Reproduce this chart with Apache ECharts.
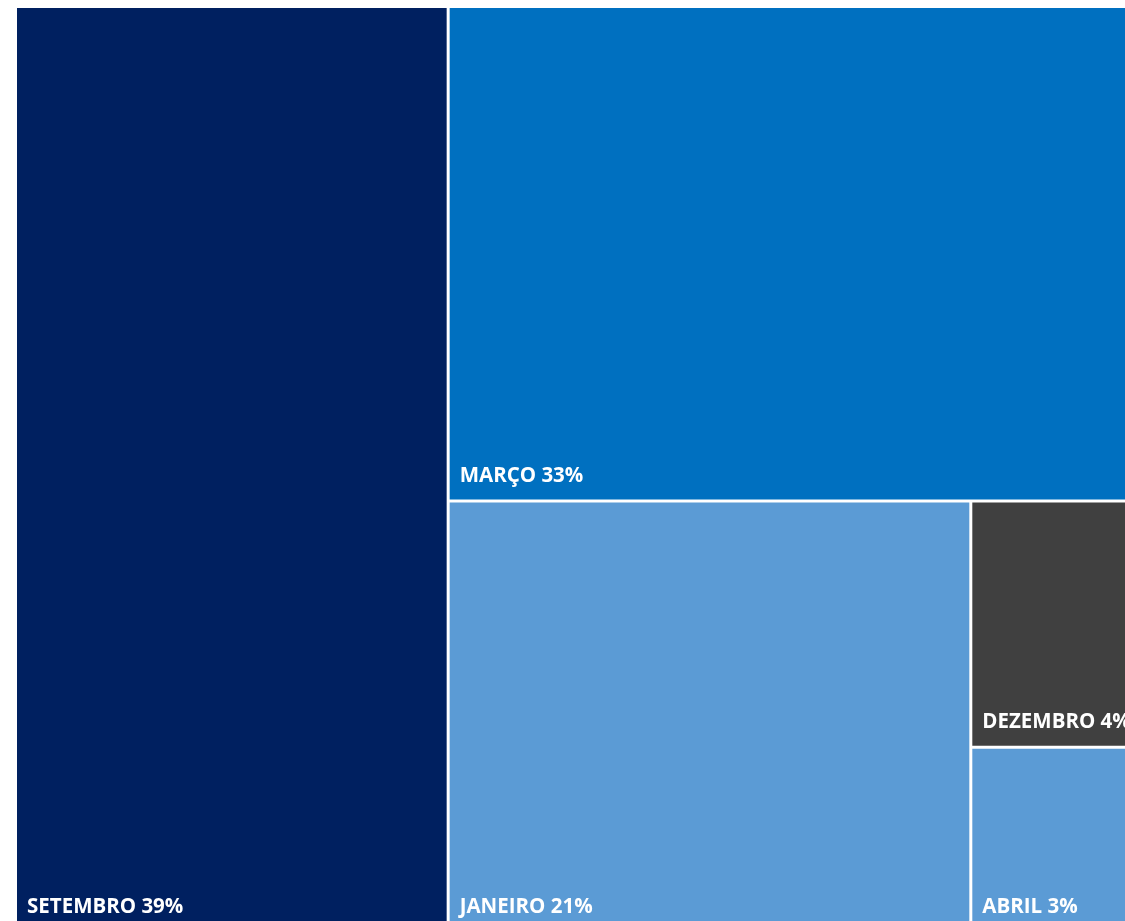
<!DOCTYPE html>
<html>
<head>
<meta charset="utf-8">
<script src="https://cdn.jsdelivr.net/npm/echarts@6/dist/echarts.min.js"></script>
<style>
  body { margin: 0; background: #fff; }
  #chart { width: 1125px; height: 921px; }
</style>
</head>
<body>
<div id="chart"></div>
<script>
// meses e participação (área estimada a partir da figura)
var months = ['SETEMBRO', 'MARÇO', 'JANEIRO', 'DEZEMBRO', 'ABRIL'];
var areas = [38.7, 32.74, 21.78, 3.87, 2.91];
// percentuais mostrados nos rótulos
var percents = [39, 33, 21, 4, 3];
var colors = ['#002060', '#0070C0', '#5B9BD5', '#404040', '#5B9BD5'];

var data = [];
for (var i = 0; i < months.length; i++) {
  data.push({
    name: months[i],
    value: areas[i],
    pct: percents[i],
    itemStyle: {color: colors[i]}
  });
}

var myChart = echarts.init(document.getElementById('chart'));
var option = {
  animation: false,
  series: [
    {
      type: 'treemap',
      left: 17,
      top: 8,
      width: 1115,
      height: 923,
      roam: false,
      nodeClick: false,
      squareRatio: 0.5,
      breadcrumb: {show: false},
      itemStyle: {
        gapWidth: 3,
        borderWidth: 0,
        borderColor: '#fff'
      },
      label: {
        show: true,
        position: 'insideBottomLeft',
        distance: 0,
        padding: [0, 0, 13, 10],
        color: '#fff',
        fontFamily: 'Open Sans',
        fontWeight: 'bold',
        fontSize: 20.5,
        formatter: function (p) {
          return p.name + ' ' + p.data.pct + '%';
        }
      },
      emphasis: {disabled: true},
      data: data
    }
  ]
};
myChart.setOption(option);
</script>
</body>
</html>
